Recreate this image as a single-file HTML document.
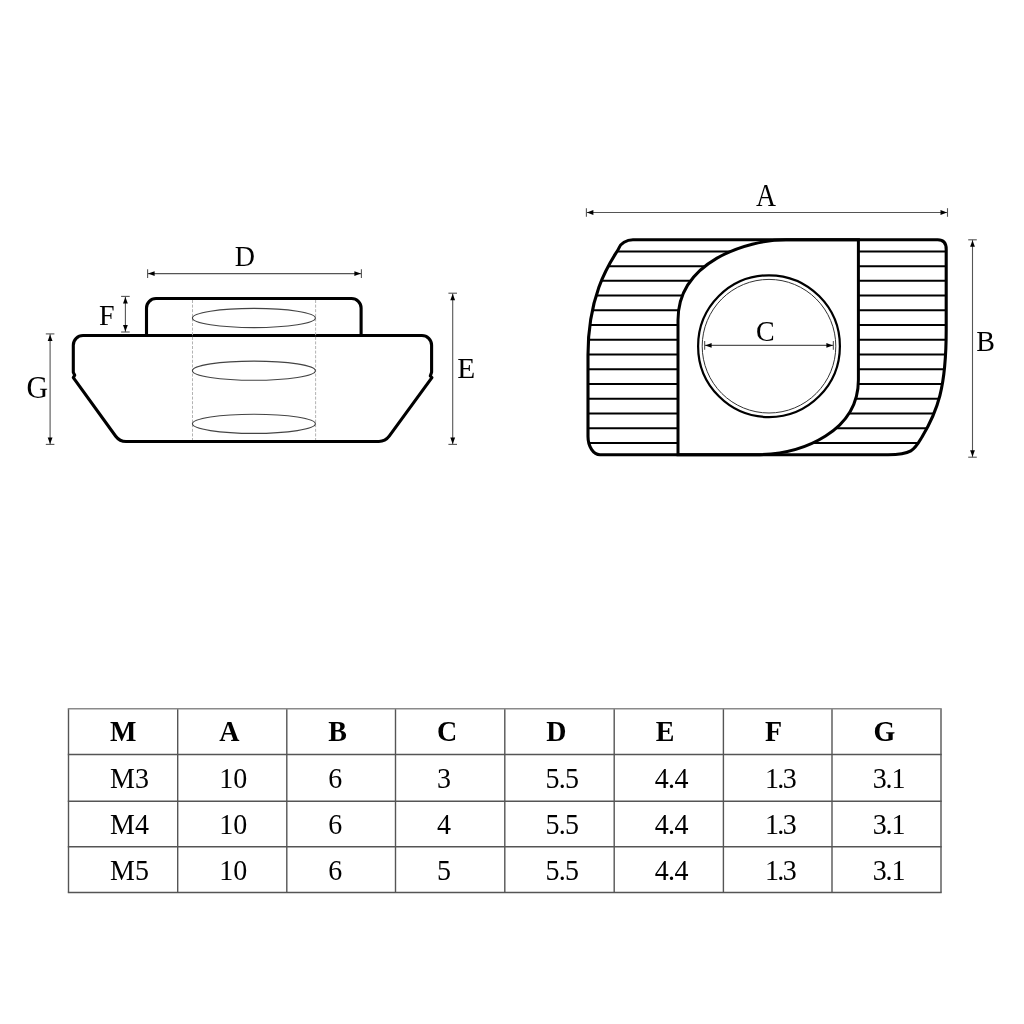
<!DOCTYPE html>
<html><head><meta charset="utf-8"><style>
html,body{margin:0;padding:0;background:#fff;width:1024px;height:1024px;overflow:hidden}
svg{display:block;will-change:transform}
text{font-family:"Liberation Serif",serif;fill:#000}
</style></head><body>
<svg width="1024" height="1024" viewBox="0 0 1024 1024">
<rect width="1024" height="1024" fill="#fff"/>
<defs><clipPath id="cpo"><path d="M633,239.8 H937.7 Q946.2,239.8 946.2,249.2 V330 C946.2,388 937.43,411.28 922,437 C914.8,449 913,454.7 888,454.7 H600 C593.4,454.7 588,446.5 588,436.6 V355 C588,286 616.2,254.9 619.2,247.5 C620.7,243.8 626,239.8 633,239.8 Z"/></clipPath></defs>
<g clip-path="url(#cpo)">
<line x1="580" y1="251.40" x2="960" y2="251.40" stroke="#000" stroke-width="2"/>
<line x1="580" y1="266.13" x2="960" y2="266.13" stroke="#000" stroke-width="2"/>
<line x1="580" y1="280.86" x2="960" y2="280.86" stroke="#000" stroke-width="2"/>
<line x1="580" y1="295.59" x2="960" y2="295.59" stroke="#000" stroke-width="2"/>
<line x1="580" y1="310.32" x2="960" y2="310.32" stroke="#000" stroke-width="2"/>
<line x1="580" y1="325.05" x2="960" y2="325.05" stroke="#000" stroke-width="2"/>
<line x1="580" y1="339.78" x2="960" y2="339.78" stroke="#000" stroke-width="2"/>
<line x1="580" y1="354.51" x2="960" y2="354.51" stroke="#000" stroke-width="2"/>
<line x1="580" y1="369.24" x2="960" y2="369.24" stroke="#000" stroke-width="2"/>
<line x1="580" y1="383.97" x2="960" y2="383.97" stroke="#000" stroke-width="2"/>
<line x1="580" y1="398.70" x2="960" y2="398.70" stroke="#000" stroke-width="2"/>
<line x1="580" y1="413.43" x2="960" y2="413.43" stroke="#000" stroke-width="2"/>
<line x1="580" y1="428.16" x2="960" y2="428.16" stroke="#000" stroke-width="2"/>
<line x1="580" y1="442.89" x2="960" y2="442.89" stroke="#000" stroke-width="2"/>
</g>
<path d="M678,454.7 V320 C678,262 746,239.8 786,239.8 H858.4 V380 C858.4,430 805,454.7 756,454.7 Z" fill="#fff" stroke="#000" stroke-width="3"/>
<path d="M633,239.8 H937.7 Q946.2,239.8 946.2,249.2 V330 C946.2,388 937.43,411.28 922,437 C914.8,449 913,454.7 888,454.7 H600 C593.4,454.7 588,446.5 588,436.6 V355 C588,286 616.2,254.9 619.2,247.5 C620.7,243.8 626,239.8 633,239.8 Z" fill="none" stroke="#000" stroke-width="3.1" stroke-linejoin="round"/>
<circle cx="769" cy="346.2" r="70.9" fill="none" stroke="#000" stroke-width="2.2"/>
<circle cx="769" cy="346.2" r="66.8" fill="none" stroke="#333" stroke-width="1"/>
<line x1="586.4" y1="212.5" x2="947.5" y2="212.5" stroke="#555" stroke-width="1.1"/><line x1="586.4" y1="208.2" x2="586.4" y2="216.8" stroke="#555" stroke-width="1.1"/><line x1="947.5" y1="208.2" x2="947.5" y2="216.8" stroke="#555" stroke-width="1.1"/><path d="M586.9,212.5 L593.4,210.1 V214.9 Z" fill="#000"/><path d="M947.0,212.5 L940.5,210.1 V214.9 Z" fill="#000"/>
<line x1="972.5" y1="239.8" x2="972.5" y2="457.2" stroke="#555" stroke-width="1.1"/><line x1="968.2" y1="239.8" x2="976.8" y2="239.8" stroke="#555" stroke-width="1.1"/><line x1="968.2" y1="457.2" x2="976.8" y2="457.2" stroke="#555" stroke-width="1.1"/><path d="M972.5,240.3 L970.1,246.8 H974.9 Z" fill="#000"/><path d="M972.5,456.7 L970.1,450.2 H974.9 Z" fill="#000"/>
<line x1="704.65" y1="345.4" x2="833.35" y2="345.4" stroke="#555" stroke-width="1.1"/><line x1="704.65" y1="341.09999999999997" x2="704.65" y2="349.7" stroke="#555" stroke-width="1.1"/><line x1="833.35" y1="341.09999999999997" x2="833.35" y2="349.7" stroke="#555" stroke-width="1.1"/><path d="M705.15,345.4 L711.65,343.0 V347.79999999999995 Z" fill="#000"/><path d="M832.85,345.4 L826.35,343.0 V347.79999999999995 Z" fill="#000"/>
<text transform="translate(766,205.8) scale(0.99,1.1)" text-anchor="middle" font-size="28">A</text>
<text transform="translate(985.5,350.9) scale(1.0,1.05)" text-anchor="middle" font-size="28">B</text>
<text transform="translate(765.3,340.6) scale(1.0,1.06)" text-anchor="middle" font-size="28">C</text>
<path d="M146.5,335.5 V308 A9.5,9.5 0 0 1 156,298.5 H351.6 A9.5,9.5 0 0 1 361.1,308 V335.5" fill="none" stroke="#000" stroke-width="3.1" stroke-linejoin="round"/>
<path d="M83,335.5 H421.9 A9.7,9.7 0 0 1 431.6,345.2 V372.3 L430.3,376 L431.9,377.6 L389.2,436.2 Q385.2,441.5 378.9,441.5 H126 Q119.7,441.5 115.7,436.2 L73.3,377.6 L74.7,375.2 L73.3,372.3 V345.2 A9.7,9.7 0 0 1 83,335.5 Z" fill="none" stroke="#000" stroke-width="3.1" stroke-linejoin="round"/>
<line x1="192.5" y1="300" x2="192.5" y2="440" stroke="#aaa" stroke-width="0.9" stroke-dasharray="3,1.6"/>
<line x1="315.6" y1="300" x2="315.6" y2="440" stroke="#aaa" stroke-width="0.9" stroke-dasharray="3,1.6"/>
<ellipse cx="253.9" cy="318" rx="61.5" ry="9.6" fill="none" stroke="#444" stroke-width="1.1"/>
<ellipse cx="253.9" cy="370.7" rx="61.5" ry="9.6" fill="none" stroke="#444" stroke-width="1.1"/>
<ellipse cx="253.9" cy="423.8" rx="61.5" ry="9.6" fill="none" stroke="#444" stroke-width="1.1"/>
<line x1="147.6" y1="273.6" x2="361.4" y2="273.6" stroke="#555" stroke-width="1.1"/><line x1="147.6" y1="269.3" x2="147.6" y2="277.90000000000003" stroke="#555" stroke-width="1.1"/><line x1="361.4" y1="269.3" x2="361.4" y2="277.90000000000003" stroke="#555" stroke-width="1.1"/><path d="M148.1,273.6 L154.6,271.20000000000005 V276.0 Z" fill="#000"/><path d="M360.9,273.6 L354.4,271.20000000000005 V276.0 Z" fill="#000"/>
<line x1="125.4" y1="296.4" x2="125.4" y2="332" stroke="#555" stroke-width="1.1"/><line x1="121.10000000000001" y1="296.4" x2="129.70000000000002" y2="296.4" stroke="#555" stroke-width="1.1"/><line x1="121.10000000000001" y1="332" x2="129.70000000000002" y2="332" stroke="#555" stroke-width="1.1"/><path d="M125.4,296.9 L123.0,303.4 H127.80000000000001 Z" fill="#000"/><path d="M125.4,331.5 L123.0,325 H127.80000000000001 Z" fill="#000"/>
<line x1="50.1" y1="333.9" x2="50.1" y2="444.4" stroke="#555" stroke-width="1.1"/><line x1="45.800000000000004" y1="333.9" x2="54.4" y2="333.9" stroke="#555" stroke-width="1.1"/><line x1="45.800000000000004" y1="444.4" x2="54.4" y2="444.4" stroke="#555" stroke-width="1.1"/><path d="M50.1,334.4 L47.7,340.9 H52.5 Z" fill="#000"/><path d="M50.1,443.9 L47.7,437.4 H52.5 Z" fill="#000"/>
<line x1="452.7" y1="293.2" x2="452.7" y2="444.4" stroke="#555" stroke-width="1.1"/><line x1="448.4" y1="293.2" x2="457.0" y2="293.2" stroke="#555" stroke-width="1.1"/><line x1="448.4" y1="444.4" x2="457.0" y2="444.4" stroke="#555" stroke-width="1.1"/><path d="M452.7,293.7 L450.3,300.2 H455.09999999999997 Z" fill="#000"/><path d="M452.7,443.9 L450.3,437.4 H455.09999999999997 Z" fill="#000"/>
<text transform="translate(244.8,266.4) scale(1.0,1.05)" text-anchor="middle" font-size="28">D</text>
<text transform="translate(106.7,324.9) scale(1.0,1.04)" text-anchor="middle" font-size="28">F</text>
<text transform="translate(37.2,398) scale(1.07,1.12)" text-anchor="middle" font-size="28">G</text>
<text transform="translate(466.3,377.7) scale(1.05,1.05)" text-anchor="middle" font-size="28">E</text>
<line x1="68.5" y1="708.8" x2="68.5" y2="892.4" stroke="#555" stroke-width="1.4"/>
<line x1="177.7" y1="708.8" x2="177.7" y2="892.4" stroke="#555" stroke-width="1.4"/>
<line x1="286.8" y1="708.8" x2="286.8" y2="892.4" stroke="#555" stroke-width="1.4"/>
<line x1="395.5" y1="708.8" x2="395.5" y2="892.4" stroke="#555" stroke-width="1.4"/>
<line x1="504.8" y1="708.8" x2="504.8" y2="892.4" stroke="#555" stroke-width="1.4"/>
<line x1="614.2" y1="708.8" x2="614.2" y2="892.4" stroke="#555" stroke-width="1.4"/>
<line x1="723.4" y1="708.8" x2="723.4" y2="892.4" stroke="#555" stroke-width="1.4"/>
<line x1="832" y1="708.8" x2="832" y2="892.4" stroke="#555" stroke-width="1.4"/>
<line x1="941" y1="708.8" x2="941" y2="892.4" stroke="#555" stroke-width="1.4"/>
<line x1="67.8" y1="708.8" x2="941.7" y2="708.8" stroke="#8a8a8a" stroke-width="1.5"/>
<line x1="67.8" y1="754.5" x2="941.7" y2="754.5" stroke="#555" stroke-width="1.5"/>
<line x1="67.8" y1="801.2" x2="941.7" y2="801.2" stroke="#555" stroke-width="1.5"/>
<line x1="67.8" y1="846.7" x2="941.7" y2="846.7" stroke="#555" stroke-width="1.5"/>
<line x1="67.8" y1="892.4" x2="941.7" y2="892.4" stroke="#555" stroke-width="1.5"/>
<text transform="translate(110.0,741.2) scale(1,1.05)" font-size="28" font-weight="bold">M</text>
<text transform="translate(219.2,741.2) scale(1,1.05)" font-size="28" font-weight="bold">A</text>
<text transform="translate(328.3,741.2) scale(1,1.05)" font-size="28" font-weight="bold">B</text>
<text transform="translate(437.0,741.2) scale(1,1.05)" font-size="28" font-weight="bold">C</text>
<text transform="translate(546.3,741.2) scale(1,1.05)" font-size="28" font-weight="bold">D</text>
<text transform="translate(655.7,741.2) scale(1,1.05)" font-size="28" font-weight="bold">E</text>
<text transform="translate(764.9,741.2) scale(1,1.05)" font-size="28" font-weight="bold">F</text>
<text transform="translate(873.5,741.2) scale(1,1.05)" font-size="28" font-weight="bold">G</text>
<text transform="translate(110.0,787.5) scale(1,1.05)" font-size="28">M3</text>
<text transform="translate(219.2,787.5) scale(1,1.05)" font-size="28">10</text>
<text transform="translate(328.3,787.5) scale(1,1.05)" font-size="28">6</text>
<text transform="translate(437.0,787.5) scale(1,1.05)" font-size="28">3</text>
<text transform="translate(545.5,787.5) scale(1,1.05)" font-size="28" letter-spacing="-0.7">5.5</text>
<text transform="translate(654.7,787.5) scale(1,1.05)" font-size="28" letter-spacing="-0.6">4.4</text>
<text transform="translate(764.9,787.5) scale(1,1.05)" font-size="28" letter-spacing="-1.6">1.3</text>
<text transform="translate(872.7,787.5) scale(1,1.05)" font-size="28" letter-spacing="-1.1">3.1</text>
<text transform="translate(110.0,833.5) scale(1,1.05)" font-size="28">M4</text>
<text transform="translate(219.2,833.5) scale(1,1.05)" font-size="28">10</text>
<text transform="translate(328.3,833.5) scale(1,1.05)" font-size="28">6</text>
<text transform="translate(437.0,833.5) scale(1,1.05)" font-size="28">4</text>
<text transform="translate(545.5,833.5) scale(1,1.05)" font-size="28" letter-spacing="-0.7">5.5</text>
<text transform="translate(654.7,833.5) scale(1,1.05)" font-size="28" letter-spacing="-0.6">4.4</text>
<text transform="translate(764.9,833.5) scale(1,1.05)" font-size="28" letter-spacing="-1.6">1.3</text>
<text transform="translate(872.7,833.5) scale(1,1.05)" font-size="28" letter-spacing="-1.1">3.1</text>
<text transform="translate(110.0,879.6) scale(1,1.05)" font-size="28">M5</text>
<text transform="translate(219.2,879.6) scale(1,1.05)" font-size="28">10</text>
<text transform="translate(328.3,879.6) scale(1,1.05)" font-size="28">6</text>
<text transform="translate(437.0,879.6) scale(1,1.05)" font-size="28">5</text>
<text transform="translate(545.5,879.6) scale(1,1.05)" font-size="28" letter-spacing="-0.7">5.5</text>
<text transform="translate(654.7,879.6) scale(1,1.05)" font-size="28" letter-spacing="-0.6">4.4</text>
<text transform="translate(764.9,879.6) scale(1,1.05)" font-size="28" letter-spacing="-1.6">1.3</text>
<text transform="translate(872.7,879.6) scale(1,1.05)" font-size="28" letter-spacing="-1.1">3.1</text>
</svg>
</body></html>
